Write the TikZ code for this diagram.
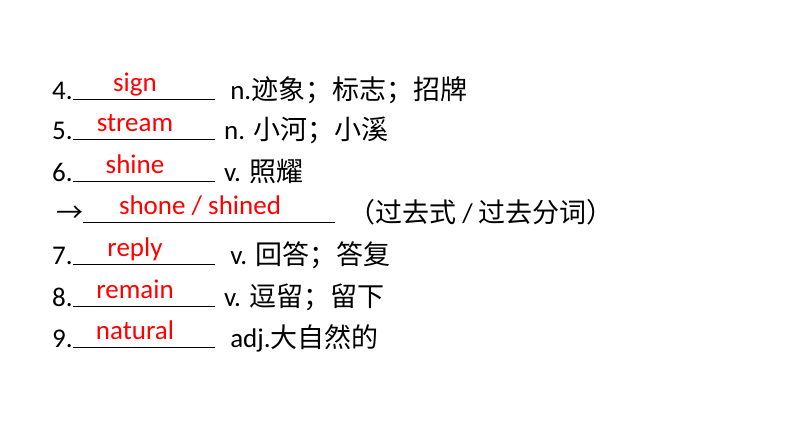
\documentclass[tikz,border=0pt]{standalone}
\usepackage{fontspec}
\setmainfont{Carlito}
\newfontfamily\cjk{Noto Sans CJK SC}
\begin{document}
\begin{tikzpicture}[x=1pt,y=-1pt,
  txt/.style={anchor=base west,inner sep=0pt,font=\fontsize{27}{32}\selectfont},
  ans/.style={anchor=base,inner sep=0pt,text=red,font=\fontsize{27}{32}\selectfont}]
\useasboundingbox (0,0) rectangle (794,447);
\foreach \n/\y/\a/\b in {4/99/sign/{\ n.{\cjk 迹象；标志；招牌}},5/139/stream/{n. {\cjk 小河；小溪}},6/181/shine/{v. {\cjk 照耀}},7/264/reply/{\ v. {\cjk 回答；答复}},8/306/remain/{v. {\cjk 逗留；留下}},9/347/natural/{\ adj.{\cjk 大自然的}}}{
  \node[txt] (l\n) at (52,\y) {\n.\rule[-1pt]{142pt}{0.8pt}};
  \node[ans] (a\n) at (135,\y-8) {\a};
  \node[txt] (d\n) at (224,\y) {\b};
}
\node[txt] (arr) at (56,222) {{\cjk →}\rule[-1pt]{252pt}{0.8pt}};
\node[ans] (ashine) at (200,214) {shone / shined};
\node[txt] (dshine) at (348,222) {{\cjk （过去式} / {\cjk 过去分词）}};
\end{tikzpicture}
\end{document}
